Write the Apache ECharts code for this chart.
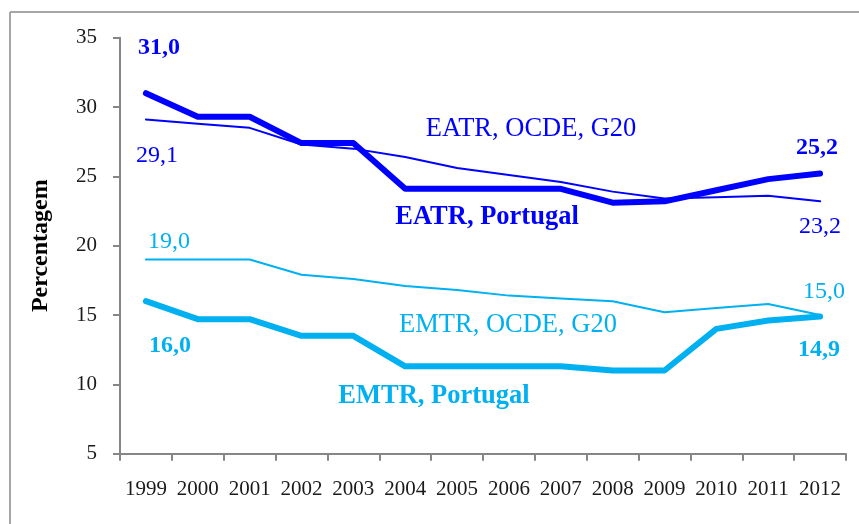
<!DOCTYPE html>
<html>
<head>
<meta charset="utf-8">
<script src="https://cdn.jsdelivr.net/npm/echarts@6/dist/echarts.min.js"></script>
<style>html,body{margin:0;padding:0;background:#fff}#c{width:859px;height:524px}</style>
</head>
<body>
<div id="c"></div>
<script>
const years = ['1999','2000','2001','2002','2003','2004','2005','2006','2007','2008','2009','2010','2011','2012'];
const eatrPortugal = [31.0,29.3,29.3,27.4,27.4,24.1,24.1,24.1,24.1,23.1,23.2,24.0,24.8,25.2];
const eatrOcde     = [29.1,28.8,28.5,27.3,27.0,26.4,25.6,25.1,24.6,23.9,23.4,23.5,23.6,23.2];
const emtrPortugal = [16.0,14.7,14.7,13.5,13.5,11.3,11.3,11.3,11.3,11.0,11.0,14.0,14.6,14.9];
const emtrOcde     = [19.0,19.0,19.0,17.9,17.6,17.1,16.8,16.4,16.2,16.0,15.2,15.5,15.8,15.0];
const yTicks = [5,10,15,20,25,30,35];

const DARK = '#0000FF', LIGHT = '#00B0F0';
const FONT = '"Liberation Serif", "DejaVu Serif", serif';
const fmt = v => v.toFixed(1).replace('.', ',');

function withLabels(arr, color, bold, first, last) {
  return arr.map((v, i) => {
    const o = (i === 0) ? first : (i === arr.length - 1 ? last : null);
    if (!o) return v;
    return {
      value: v,
      label: {
        show: true, position: 'inside', offset: o,
        formatter: fmt(v), color: color, fontFamily: FONT,
        fontSize: 24, fontWeight: bold ? 'bold' : 'normal',
        align: 'center', verticalAlign: 'middle'
      }
    };
  });
}

function series(name, data, color, width, bold, first, last) {
  return {
    name: name, type: 'line', data: withLabels(data, color, bold, first, last),
    symbol: 'circle', symbolSize: 1, showSymbol: true,
    itemStyle: { color: color },
    lineStyle: { color: color, width: width, cap: 'round', join: 'round' },
    label: { show: false },
    animation: false, z: width > 3 ? 3 : 2
  };
}

const chart = echarts.init(document.getElementById('c'), null, { renderer: 'canvas' });
chart.setOption({
  animation: false,
  grid: { left: 120, right: 13, top: 37.7, bottom: 70.3 },
  xAxis: {
    type: 'category', data: years, boundaryGap: true,
    axisLine: { lineStyle: { color: '#868686', width: 2 } },
    axisTick: { show: true, length: 7, interval: 0, lineStyle: { color: '#868686', width: 2 } },
    axisLabel: { interval: 0, color: '#1a1a1a', fontFamily: FONT, fontSize: 21, margin: 25 }
  },
  yAxis: {
    type: 'value', min: yTicks[0], max: yTicks[yTicks.length - 1], interval: 5,
    name: 'Percentagem', nameLocation: 'middle', nameRotate: 90, nameGap: 67,
    nameTextStyle: { color: '#000', fontFamily: FONT, fontSize: 24, fontWeight: 'bold' },
    axisLine: { show: true, lineStyle: { color: '#868686', width: 2 } },
    axisTick: { show: true, length: 7, lineStyle: { color: '#868686', width: 2 } },
    splitLine: { show: false },
    axisLabel: { color: '#1a1a1a', fontFamily: FONT, fontSize: 21, margin: 23 }
  },
  series: [
    series('EATR, OCDE, G20', eatrOcde, DARK, 2, false, [11, 36], [0, 25]),
    series('EATR, Portugal', eatrPortugal, DARK, 6, true, [13, -45], [-3, -26]),
    series('EMTR, OCDE, G20', emtrOcde, LIGHT, 2, false, [23, -18], [4, -23]),
    series('EMTR, Portugal', emtrPortugal, LIGHT, 6, true, [24, 45], [-1, 33])
  ],
  graphic: [
    { type: 'line', shape: { x1: 10, y1: 12, x2: 859, y2: 12 }, style: { stroke: '#a6a6a6', lineWidth: 2 } },
    { type: 'line', shape: { x1: 10, y1: 12, x2: 10, y2: 524 }, style: { stroke: '#a6a6a6', lineWidth: 2 } },
    { type: 'text', x: 531, y: 129, style: { text: 'EATR, OCDE, G20', fill: DARK, font: '26.5px ' + FONT, textAlign: 'center', textVerticalAlign: 'middle' } },
    { type: 'text', x: 487, y: 217, style: { text: 'EATR, Portugal', fill: DARK, font: 'bold 26.5px ' + FONT, textAlign: 'center', textVerticalAlign: 'middle' } },
    { type: 'text', x: 508, y: 325, style: { text: 'EMTR, OCDE, G20', fill: LIGHT, font: '26.5px ' + FONT, textAlign: 'center', textVerticalAlign: 'middle' } },
    { type: 'text', x: 434, y: 396, style: { text: 'EMTR, Portugal', fill: LIGHT, font: 'bold 26.5px ' + FONT, textAlign: 'center', textVerticalAlign: 'middle' } }
  ]
});
</script>
</body>
</html>
